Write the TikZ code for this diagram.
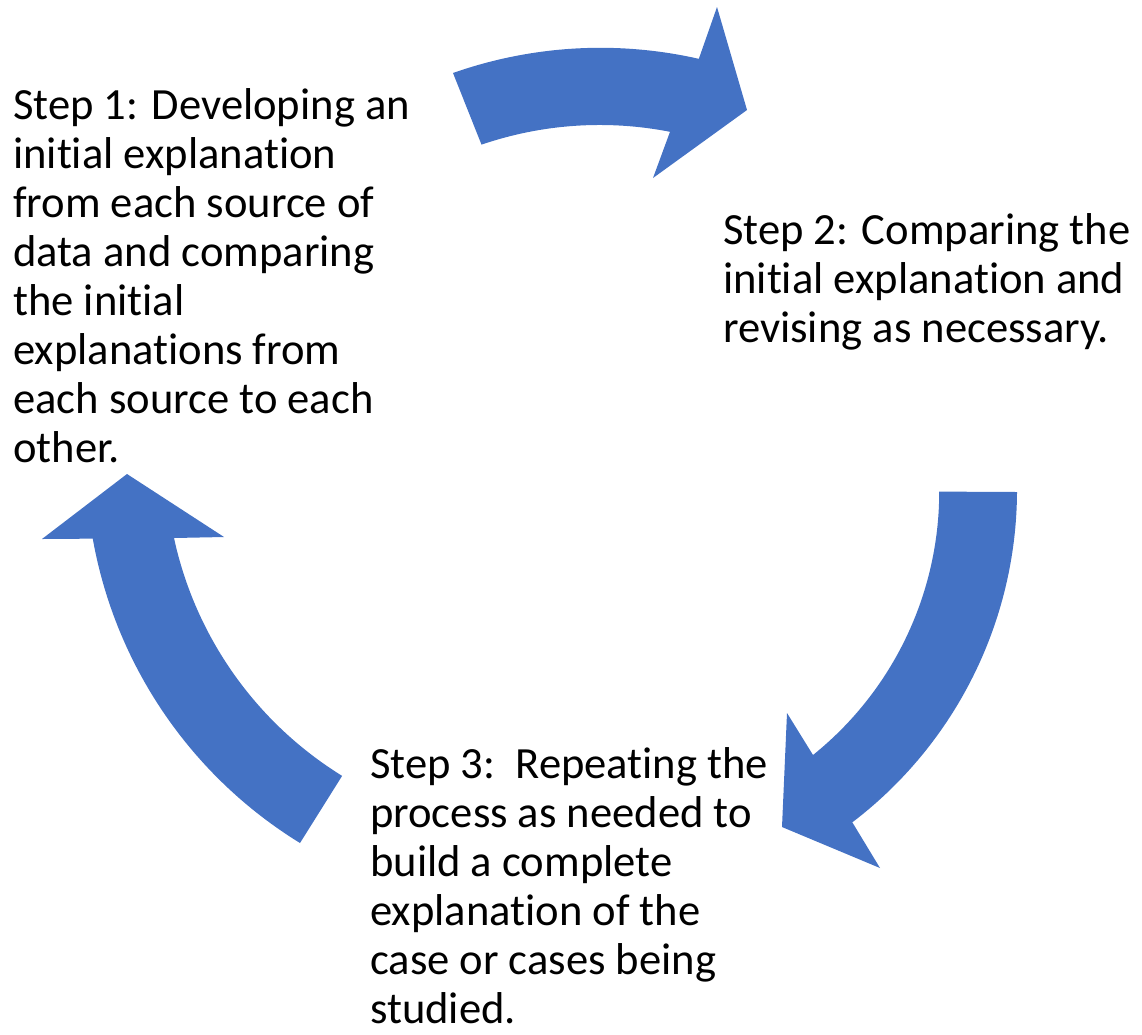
\documentclass[tikz,border=0pt]{standalone}
\usepackage{fontspec}
\setmainfont{Carlito}[Ligatures=NoCommon]
\definecolor{cycleblue}{HTML}{4472C4}
\begin{document}
\begin{tikzpicture}[x=1pt,y=-1pt,
  cyclearrow/.style={fill=cycleblue},
  % the base anchor of these multi-line nodes sits on the last line
  steptext/.style={anchor=base west, inner sep=0pt, align=left,
    font=\fontsize{44.6}{49}\selectfont}]
\useasboundingbox (0,0) rectangle (1142,1034);

% curved arrow at the top (step 1 -> step 2), arcs about (600,490)
\fill[cyclearrow] (453,73) arc[start angle=-109.4, end angle=-77.2, radius=444]
  -- (717,7) -- (747,110) -- (653,178) -- (670,131.8)
  arc[start angle=-78.9, end angle=-108.9, radius=365] -- cycle;

% curved arrow on the right (step 2 -> step 3), arcs about (600,490)
\fill[cyclearrow] (1017,492) arc[start angle=0.3, end angle=52.7, radius=418]
  -- (880,868) -- (782,827) -- (787,713) -- (813,755)
  arc[start angle=51.2, end angle=0, radius=338] -- cycle;

% curved arrow on the left (step 3 -> step 1), arcs about (536,460)
\fill[cyclearrow] (300,843) arc[start angle=121.6, end angle=169.9, radius=450]
  -- (42,539) -- (127,474) -- (224,537) -- (174,538)
  arc[start angle=167.8, end angle=121.7, radius=372] -- cycle;

% step labels
\node[steptext] (s1) at (13,462) {Step 1: Developing an\\initial explanation\\from each source of\\data and comparing\\the initial\\explanations from\\each source to each\\other.};
\node[steptext] (s2) at (723,342) {Step 2: Comparing the\\initial explanation and\\revising as necessary.};
\node[steptext] (s3) at (370,1023) {Step 3:\ \ Repeating the\\process as needed to\\build a complete\\explanation of the\\case or cases being\\studied.};
\end{tikzpicture}
\end{document}
